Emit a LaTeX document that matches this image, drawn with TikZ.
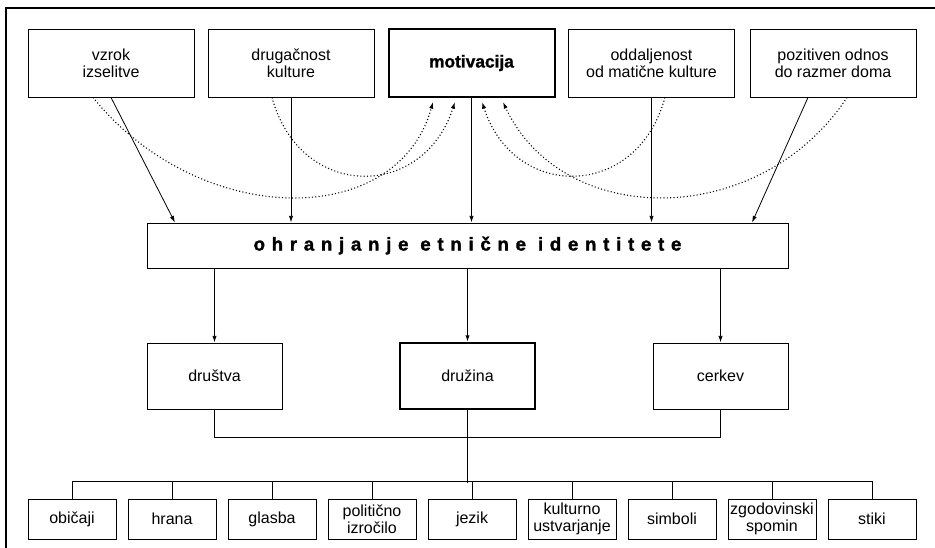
\documentclass[tikz,border=0pt]{standalone}
\usepackage{fontspec}
\setmainfont{Liberation Sans}
\newfontfamily\trackfont[LetterSpace=36,FakeBold=1.6]{Liberation Sans Bold}
\newfontfamily\heavyfont[FakeBold=1.2]{Liberation Sans Bold}
\usetikzlibrary{arrows.meta}

\begin{document}
\begin{tikzpicture}[x=0.75pt,y=-0.75pt,
    box/.style={draw,line width=0.7pt,align=center,inner sep=0pt,font=\fontsize{12}{13}\selectfont},
    topbox/.style={box,minimum width=124.5pt,minimum height=51pt},
    midbox/.style={box,minimum width=101.25pt,minimum height=49.5pt},
    lowbox/.style={box,minimum width=66pt,minimum height=30pt},
    thickbox/.style={line width=1.5pt},
    link/.style={line width=0.6pt},
    arr/.style={link,-{Latex[length=5pt,width=3.2pt]}},
    dots/.style={arr,line width=0.8pt,dash pattern=on 0.8pt off 1.7pt}]
    \useasboundingbox (0,0) rectangle (935,548);
    \draw[line width=0.9pt] (6,548) -- (6,8) -- (935,8);

    \node[topbox] (vzrok) at (111,63) {vzrok\\izselitve};
    \node[topbox] (drugacnost) at (291,63) {drugačnost\\kulture};
    \node[topbox,thickbox,font=\heavyfont\fontsize{13}{14}\selectfont] (motiv) at (471.5,63) {motivacija};
    \node[topbox] (oddalj) at (651.5,63) {oddaljenost\\od matične kulture};
    \node[topbox] (pozit) at (833,63) {pozitiven odnos\\do razmer doma};

    \node[box,minimum width=480.75pt,minimum height=33.75pt,font=\trackfont\fontsize{14}{16}\selectfont] (ident) at (467.5,245.5) {ohranjanje etnične identitete};

    \node[midbox] (drustva) at (214.5,376) {društva};
    \node[midbox,thickbox] (druzina) at (467.5,376) {družina};
    \node[midbox] (cerkev) at (720.5,376) {cerkev};

    \foreach \name/\txt [count=\i from 0] in {obicaji/običaji,hrana/hrana,glasba/glasba,politicno/{politično\\izročilo},jezik/jezik,kulturno/{kulturno\\ustvarjanje},simboli/simboli,zgodovina/{zgodovinski\\spomin},stiki/stiki}
        \node[lowbox] (\name) at (72+100*\i,519) {\txt};

    \draw[arr] (vzrok.south) -- ([xshift=-219.4pt]ident.north);
    \draw[arr] (drugacnost.south) -- (drugacnost.south |- ident.north);
    \draw[arr] (motiv.south) -- (motiv.south |- ident.north);
    \draw[arr] (oddalj.south) -- (oddalj.south |- ident.north);
    \draw[arr] ([xshift=-18.75pt]pozit.south) -- ([xshift=213.4pt]ident.north);

    \draw[dots] ([xshift=-13.5pt]vzrok.south) .. controls +(107,132) and +(-35,128) .. ([xshift=-28.9pt,yshift=-3pt]motiv.south);
    \draw[dots] ([xshift=-14.25pt]drugacnost.south) .. controls +(28,103) and +(-32,99) .. ([xshift=-12.4pt,yshift=-3pt]motiv.south);
    \draw[dots] ([xshift=10.1pt]oddalj.south) .. controls +(-28,103) and +(32,99) .. ([xshift=7.9pt,yshift=-3pt]motiv.south);
    \draw[dots] ([xshift=10.5pt]pozit.south) .. controls +(-87,132) and +(60,128) .. ([xshift=23.6pt,yshift=-3pt]motiv.south);

    \draw[arr] (ident.south -| drustva) -- (drustva);
    \draw[arr,line width=1pt] (ident.south -| druzina) -- (druzina);
    \draw[arr] (ident.south -| cerkev) -- (cerkev);

    \draw[link] (drustva.south) -- ++(0,28) -| (cerkev.south);
    \draw[link] (druzina.south) -- ++(0,73);
    \draw[link] (obicaji.north) -- ++(0,-17) -| (stiki.north);
    \foreach \name in {hrana,glasba,politicno,jezik,kulturno,simboli,zgodovina}
        \draw[link] (\name.north) -- ++(0,-17);
\end{tikzpicture}
\end{document}
